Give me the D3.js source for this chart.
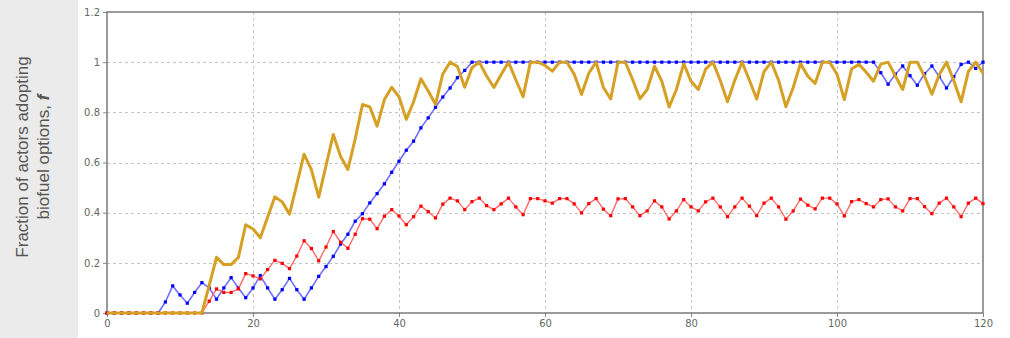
<!DOCTYPE html>
<html>
<head>
<meta charset="utf-8">
<script src="https://cdn.jsdelivr.net/npm/d3@7"></script>
<style>
  body { margin: 0; background: #fff; }
  svg { display: block; }
</style>
</head>
<body>
<script>
// tick values
let xTicks = [0, 20, 40, 60, 80, 100, 120];
let yTicks = [0, 0.2, 0.4, 0.6, 0.8, 1, 1.2];

// series, one value per time step 0..120
let blueValues = [
  0, 0, 0, 0, 0, 0, 0, 0,
  0.044, 0.108, 0.072, 0.039, 0.082, 0.121, 0.10, 0.055, 0.10, 0.141,
  0.10, 0.061, 0.10, 0.149, 0.10, 0.055, 0.093, 0.138, 0.093, 0.055,
  0.10, 0.146, 0.185, 0.226, 0.275, 0.314, 0.366, 0.396, 0.439, 0.476,
  0.515, 0.561, 0.605, 0.649, 0.685, 0.738, 0.778, 0.82, 0.861, 0.897,
  0.938, 0.967,
  1, 1, 1, 1, 1, 1, 1, 1, 1, 1, 1, 1, 1, 1, 1, 1, 1, 1, 1, 1,
  1, 1, 1, 1, 1, 1, 1, 1, 1, 1, 1, 1, 1, 1, 1, 1, 1, 1, 1, 1,
  1, 1, 1, 1, 1, 1, 1, 1, 1, 1, 1, 1, 1, 1, 1, 1,
  0.958, 0.912, 0.952, 0.985, 0.946, 0.908, 0.954, 0.985, 0.943, 0.897,
  0.942, 0.991, 1, 0.975, 1
];

let redValues = [
  0, 0, 0, 0, 0, 0, 0, 0, 0, 0, 0, 0, 0, 0,
  0.047, 0.096, 0.082, 0.082, 0.096, 0.157, 0.148, 0.136, 0.173, 0.21,
  0.198, 0.177, 0.227, 0.288, 0.257, 0.208, 0.263, 0.325, 0.282, 0.258,
  0.314, 0.376, 0.374, 0.336, 0.386, 0.412, 0.387, 0.352, 0.384, 0.426,
  0.404, 0.379, 0.434, 0.458, 0.447, 0.412, 0.444, 0.458, 0.428, 0.412,
  0.435, 0.458, 0.423, 0.392, 0.456, 0.456, 0.447, 0.438, 0.456, 0.456,
  0.435, 0.399, 0.436, 0.456, 0.414, 0.388, 0.455, 0.456, 0.423, 0.388,
  0.407, 0.447, 0.423, 0.375, 0.407, 0.452, 0.423, 0.407, 0.443, 0.458,
  0.423, 0.384, 0.423, 0.458, 0.426, 0.388, 0.438, 0.458, 0.423, 0.374,
  0.407, 0.454, 0.43, 0.415, 0.458, 0.458, 0.435, 0.387, 0.444, 0.452,
  0.436, 0.423, 0.452, 0.455, 0.423, 0.407, 0.456, 0.456, 0.424, 0.396,
  0.438, 0.458, 0.423, 0.384, 0.438, 0.458, 0.436
];

let goldValues = [
  0, 0, 0, 0, 0, 0, 0, 0, 0, 0, 0, 0, 0, 0,
  0.11, 0.222, 0.193, 0.193, 0.222, 0.352, 0.335, 0.30, 0.382, 0.463,
  0.443, 0.394, 0.513, 0.633, 0.572, 0.462, 0.587, 0.712, 0.624, 0.572,
  0.694, 0.831, 0.822, 0.745, 0.851, 0.90, 0.862, 0.772, 0.842, 0.934,
  0.885, 0.832, 0.953, 1.0, 0.983, 0.90, 0.978, 1.0, 0.945, 0.899,
  0.951, 1.0, 0.93, 0.862, 1.0, 1.0, 0.987, 0.964, 1.0, 1.0,
  0.952, 0.871, 0.956, 1.0, 0.899, 0.853, 1.0, 1.0, 0.931, 0.854,
  0.891, 0.984, 0.924, 0.821, 0.891, 0.994, 0.924, 0.891, 0.972, 1.0,
  0.928, 0.842, 0.928, 1.0, 0.928, 0.853, 0.962, 1.0, 0.928, 0.822,
  0.899, 0.995, 0.944, 0.915, 1.0, 1.0, 0.952, 0.851, 0.973, 0.992,
  0.96, 0.924, 0.992, 1.0, 0.945, 0.891, 1.0, 1.0, 0.943, 0.872,
  0.95, 1.0, 0.926, 0.842, 0.963, 1.0, 0.956
];

let width = 1010;
let height = 338;
let margin = { top: 12, right: 27, bottom: 25, left: 107 };

let svg = d3.select(document.body).append('svg')
  .attr('width', width)
  .attr('height', height);

// gray side panel behind the y label
svg.append('rect')
  .attr('x', 0).attr('y', 0)
  .attr('width', 78).attr('height', height)
  .attr('fill', '#ebebeb');

let x = d3.scaleLinear().domain([0, 120]).range([margin.left, width - margin.right]);
let y = d3.scaleLinear().domain([0, 1.2]).range([height - margin.bottom, margin.top]);

// grid
let grid = svg.append('g')
  .attr('stroke', '#c4c4c4')
  .attr('stroke-dasharray', '3,3')
  .attr('stroke-width', 1);

grid.selectAll('line.gx')
  .data(xTicks.slice(1, -1))
  .join('line')
    .attr('class', 'gx')
    .attr('x1', d => Math.round(x(d)) + 0.5)
    .attr('x2', d => Math.round(x(d)) + 0.5)
    .attr('y1', y(1.2))
    .attr('y2', y(0));

grid.selectAll('line.gy')
  .data(yTicks.slice(1, -1))
  .join('line')
    .attr('class', 'gy')
    .attr('y1', d => Math.round(y(d)) + 0.5)
    .attr('y2', d => Math.round(y(d)) + 0.5)
    .attr('x1', x(0))
    .attr('x2', x(120));

// axes
let xAxis = svg.append('g')
  .attr('transform', `translate(0,${y(0)})`)
  .call(d3.axisBottom(x).tickValues(xTicks).tickSize(4).tickPadding(3).tickFormat(d3.format('d')));

let yAxis = svg.append('g')
  .attr('transform', `translate(${x(0)},0)`)
  .call(d3.axisLeft(y).tickValues(yTicks).tickSize(4).tickPadding(3).tickFormat(d => d === 0 || d === 1 ? d : d3.format('.1f')(d)));

for (let ax of [xAxis, yAxis]) {
  ax.select('.domain').remove();
  ax.selectAll('line').attr('stroke', '#888');
  ax.selectAll('text')
    .attr('fill', '#666')
    .style('font', '10px "DejaVu Sans", sans-serif');
}

// plot frame
svg.append('rect')
  .attr('x', x(0))
  .attr('y', y(1.2))
  .attr('width', x(120) - x(0))
  .attr('height', y(0) - y(1.2))
  .attr('fill', 'none')
  .attr('stroke', '#7a7a7a')
  .attr('stroke-width', 1.5);

// series
let steps = d3.range(blueValues.length);
let line = d3.line()
  .x(d => x(d[0]))
  .y(d => y(d[1]));

let series = [
  { name: 'blue', values: blueValues, line: '#6f6fff', marker: '#0000ff', width: 1.6, markers: true },
  { name: 'red', values: redValues, line: '#ff6a6a', marker: '#ff0000', width: 1.4, markers: true },
  { name: 'gold', values: goldValues, line: '#d6a024', marker: null, width: 3, markers: false }
];

for (let s of series) {
  let pts = steps.map(i => [i, s.values[i]]);
  svg.append('path')
    .datum(pts)
    .attr('d', line)
    .attr('fill', 'none')
    .attr('stroke', s.line)
    .attr('stroke-width', s.width)
    .attr('stroke-linejoin', 'round');

  if (s.markers) {
    svg.append('g')
      .selectAll('rect')
      .data(pts)
      .join('rect')
        .attr('x', d => x(d[0]) - 1.6)
        .attr('y', d => y(d[1]) - 1.6)
        .attr('width', 3.2)
        .attr('height', 3.2)
        .attr('fill', s.marker);
  }
}

// y label
let label = svg.append('text')
  .attr('transform', 'translate(22,157) rotate(-90)')
  .attr('text-anchor', 'middle')
  .attr('fill', '#555')
  .style('font', '17px "Liberation Sans", Arial, sans-serif');

label.append('tspan')
  .attr('x', 0)
  .attr('dy', '0.35em')
  .text('Fraction of actors adopting');

let line2 = label.append('tspan')
  .attr('x', 0)
  .attr('dy', '1.25em')
  .text('biofuel options, ');
line2.append('tspan')
  .style('font-style', 'italic')
  .style('font-weight', 'bold')
  .text('f');
</script>
</body>
</html>
